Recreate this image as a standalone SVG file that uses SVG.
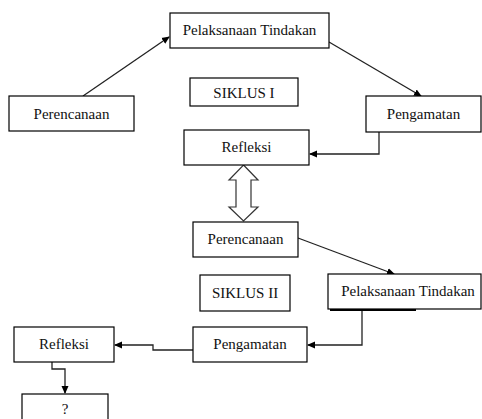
<svg xmlns="http://www.w3.org/2000/svg" width="482" height="419" viewBox="0 0 482 419">
<defs>
<marker id="ah" markerWidth="8" markerHeight="8" refX="7" refY="4" orient="auto" markerUnits="userSpaceOnUse">
<path d="M0,0.5 L8,4 L0,7.5 Z" fill="#000"/>
</marker>
<style>
.box{fill:#fff;stroke:#000;stroke-width:1.2}
.t{font-family:"Liberation Serif","Times New Roman",serif;font-size:15px;fill:#111;text-anchor:middle}
.c{fill:none;stroke:#222;stroke-width:1.3}
</style>
</defs>
<rect width="482" height="419" fill="#fff"/>
<g id="connectors">
<line class="c" x1="83" y1="96" x2="169" y2="37" marker-end="url(#ah)"/>
<line class="c" x1="329" y1="42" x2="421" y2="96" marker-end="url(#ah)"/>
<polyline class="c" points="379,132 379,154 310,154" marker-end="url(#ah)"/>
<path d="M243.5,165 L258,180 L251,180 L251,207 L258,207 L243.5,221 L229,207 L236,207 L236,180 L229,180 Z" fill="#fff" stroke="#333" stroke-width="1.2"/>
<line class="c" x1="298" y1="238" x2="394" y2="274" marker-end="url(#ah)"/>
<polyline class="c" points="362,309 362,345 308,345" marker-end="url(#ah)"/>
<polyline class="c" points="193,350 153,350 153,345 115,345" marker-end="url(#ah)"/>
<polyline class="c" points="52,362 52,369 65,369 65,393" marker-end="url(#ah)"/>
</g>
<g id="perencanaan1"><rect class="box" x="9" y="96" width="125" height="35"/><text class="t" x="71.5" y="118.5">Perencanaan</text></g>
<g id="pelaksanaan1"><rect class="box" x="170" y="13" width="159" height="35"/><text class="t" x="249.5" y="35">Pelaksanaan Tindakan</text></g>
<g id="siklus1"><rect class="box" x="190" y="78" width="108" height="28"/><text class="t" x="244" y="97.5">SIKLUS I</text></g>
<g id="pengamatan1"><rect class="box" x="366" y="96" width="115" height="36"/><text class="t" x="423.5" y="118.5">Pengamatan</text></g>
<g id="refleksi1"><rect class="box" x="184" y="130" width="125" height="35" stroke-width="1.6"/><text class="t" x="246.5" y="152">Refleksi</text></g>
<g id="perencanaan2"><rect class="box" x="193" y="222" width="105" height="35"/><text class="t" x="245.5" y="244">Perencanaan</text></g>
<g id="siklus2"><rect class="box" x="200" y="275" width="90" height="36"/><text class="t" x="245" y="297.5">SIKLUS II</text></g>
<g id="pelaksanaan2"><rect class="box" x="328" y="274" width="153" height="35"/><line x1="330" y1="310" x2="416" y2="310" stroke="#000" stroke-width="2"/><text class="t" x="408" y="296">Pelaksanaan Tindakan</text></g>
<g id="pengamatan2"><rect class="box" x="193" y="327" width="114" height="35"/><text class="t" x="250" y="349">Pengamatan</text></g>
<g id="refleksi2"><rect class="box" x="14" y="327" width="100" height="35"/><text class="t" x="64" y="349">Refleksi</text></g>
<g id="tanya"><rect class="box" x="22" y="394" width="86" height="35"/><text class="t" x="65" y="414">?</text></g>
</svg>
